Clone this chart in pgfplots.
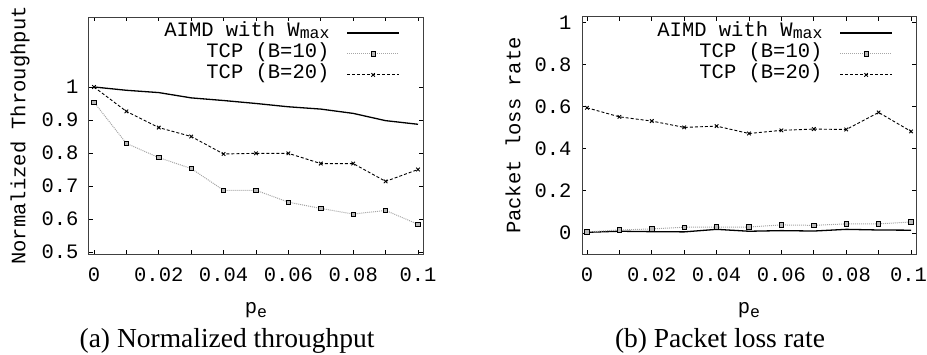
\documentclass[border=0pt]{standalone}
\usepackage{fontspec}
\setmainfont{Liberation Serif}
\setmonofont{Liberation Mono}
\usepackage{pgfplots}
\pgfplotsset{compat=1.18}
\newcommand{\tf}{\fontsize{20.5}{21}\selectfont\ttfamily}
\newcommand{\sub}[1]{\raisebox{-0.2em}{\fontsize{16.5}{17}\selectfont #1}}
\newcommand{\lsub}[1]{\raisebox{-0.1em}{\fontsize{16.5}{17}\selectfont #1}}
\pgfplotsset{
 myax/.style={
  scale only axis, width=334pt, height=237pt, anchor=south west,
  xmin=-0.00154, xmax=0.10154,
  xtick={0,0.01,0.02,0.03,0.04,0.05,0.06,0.07,0.08,0.09,0.1},
  tick align=inside, major tick length=4pt,
  tick style={black, line width=0.8pt},
  axis line style={line width=1pt, black!75},
  ticklabel style={font=\tf},
  xticklabel style={yshift=-10pt},
  yticklabel style={xshift=-7pt},
  label style={font=\tf},
  /pgf/number format/assume math mode=true,
  xlabel={p\sub{e}},
  xlabel style={at={(axis description cs:0.5,-0.25)}, anchor=base},
  ylabel style={at={(axis description cs:-0.2066,0.5)}, anchor=center},
  legend style={draw=none, fill=none, at={(axis description cs:0.94,0.98)}, anchor=north east,
    font=\tf, row sep=3pt, nodes={inner sep=1pt, text height=12pt, text depth=4pt},
    /tikz/every odd column/.append style={column sep=16pt}},
  legend cell align=right, legend plot pos=right,
  legend image code/.code={\draw[mark repeat=2,mark phase=2,##1] plot coordinates {(0pt,0pt) (26pt,0pt) (52pt,0pt)};},
 },
 aimd/.style={black, line width=1.3pt, no marks},
 tcpa/.style={gray!70, densely dotted, line width=1pt, mark=square*, mark size=2.2pt,
   mark options={solid, fill=gray!55, draw=black, line width=0.7pt}},
 tcpb/.style={black, densely dashed, line width=0.9pt, mark=x, mark size=2.5pt, mark options={solid}},
}
\begin{document}
\begin{tikzpicture}
\useasboundingbox (0,0) rectangle (927pt,354pt);
\begin{axis}[myax, at={(89pt,100pt)},
  xticklabels={0,,0.02,,0.04,,0.06,,0.08,,0.1},
  ymin=0.494, ymax=1.212,
  ytick={0.5,0.6,0.7,0.8,0.9,1}, yticklabels={0.5,0.6,0.7,0.8,0.9,1},
  ylabel={Normalized Throughput}]
\addplot[aimd] coordinates {(0,1) (0.01,0.99) (0.02,0.983) (0.03,0.967) (0.04,0.959) (0.05,0.95) (0.06,0.94) (0.07,0.933) (0.08,0.92) (0.09,0.898) (0.1,0.887)};
\addlegendentry{AIMD with W\lsub{max}}
\addplot[tcpa] coordinates {(0,0.954) (0.01,0.829) (0.02,0.786) (0.03,0.753) (0.04,0.687) (0.05,0.687) (0.06,0.651) (0.07,0.632) (0.08,0.615) (0.09,0.626) (0.1,0.584)};
\addlegendentry{TCP (B=10)}
\addplot[tcpb] coordinates {(0,1.0) (0.01,0.926) (0.02,0.877) (0.03,0.85) (0.04,0.797) (0.05,0.799) (0.06,0.799) (0.07,0.768) (0.08,0.768) (0.09,0.714) (0.1,0.75)};
\addlegendentry{TCP (B=20)}
\end{axis}
\begin{axis}[myax, at={(582pt,100pt)},
  xticklabels={0,,0.02,,0.04,,0.06,,0.08,,0.1\kern5pt},
  ymin=-0.1, ymax=1.025,
  ytick={0,0.2,0.4,0.6,0.8,1}, yticklabels={0,0.2,0.4,0.6,0.8,1},
  ylabel={Packet loss rate}]
\addplot[aimd] coordinates {(0,0.003) (0.01,0.008) (0.02,0.006) (0.03,0.005) (0.04,0.017) (0.05,0.008) (0.06,0.011) (0.07,0.009) (0.08,0.017) (0.09,0.014) (0.1,0.013)};
\addlegendentry{AIMD with W\lsub{max}}
\addplot[tcpa] coordinates {(0,0.005) (0.01,0.014) (0.02,0.019) (0.03,0.027) (0.04,0.028) (0.05,0.028) (0.06,0.038) (0.07,0.036) (0.08,0.043) (0.09,0.043) (0.1,0.052)};
\addlegendentry{TCP (B=10)}
\addplot[tcpb] coordinates {(0,0.594) (0.01,0.551) (0.02,0.531) (0.03,0.501) (0.04,0.507) (0.05,0.472) (0.06,0.487) (0.07,0.493) (0.08,0.491) (0.09,0.572) (0.1,0.482)};
\addlegendentry{TCP (B=20)}
\end{axis}
\node[anchor=base, font=\fontsize{27.5}{30}\selectfont] at (227pt,7pt) {(a) Normalized throughput};
\node[anchor=base, font=\fontsize{27.5}{30}\selectfont] at (720pt,7pt) {(b) Packet loss rate};
\end{tikzpicture}
\end{document}
